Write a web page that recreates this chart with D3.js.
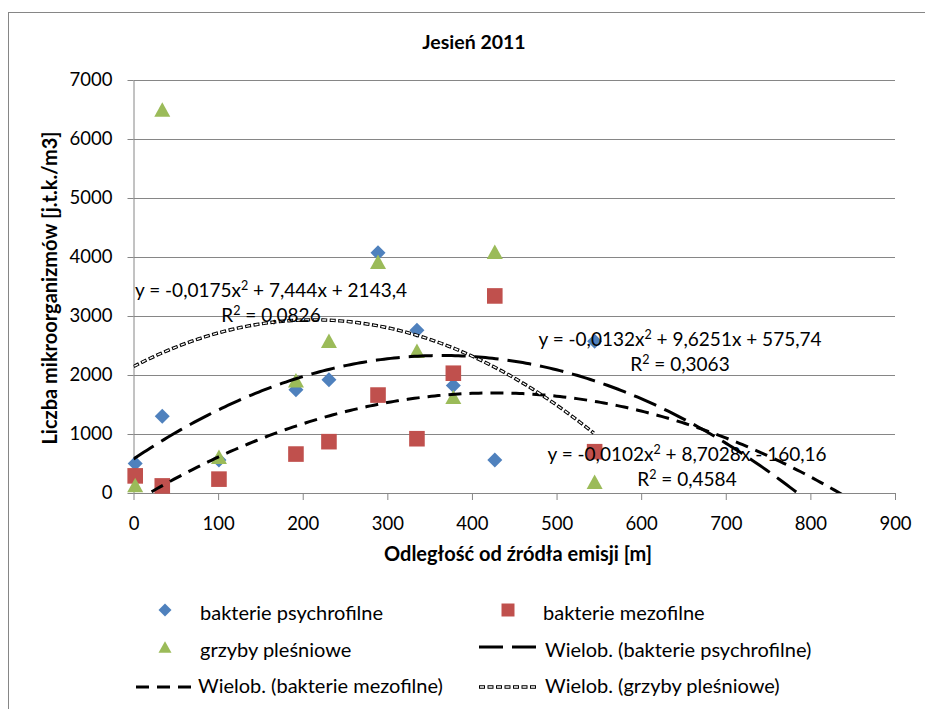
<!DOCTYPE html>
<html>
<head>
<meta charset="utf-8">
<script src="https://cdn.jsdelivr.net/npm/d3@7/dist/d3.min.js"></script>
<style>
  body { margin: 0; background: #fff; }
  text { font-family: Lato, "Open Sans", sans-serif; fill: #000; }
</style>
</head>
<body>
<div id="chart"></div>
<script>
// distances [m] and counts [j.t.k./m3]
const distances = [2, 34, 101, 192, 231, 289, 335, 378, 427, 545];
const psychro = [500, 1300, 560, 1750, 1920, 4070, 2760, 1820, 560, 2570];
const mezo = [290, 120, 235, 660, 870, 1660, 920, 2030, 3340, 700];
const grzyby = [135, 6500, 615, 1910, 2580, 3920, 2410, 1630, 4090, 190];

const xTicks = [0, 100, 200, 300, 400, 500, 600, 700, 800, 900];
const yTicks = [0, 1000, 2000, 3000, 4000, 5000, 6000, 7000];

// polynomial trendline coefficients as printed on the chart (c0, c1, c2)
const fitPsychro = [575.74, 9.6251, -0.0132];
const fitMezo = [-160.16, 8.7028, -0.0102];
const fitGrzyby = [2143.4, 7.444, -0.0175];

const seriesNames = ["bakterie psychrofilne", "bakterie mezofilne", "grzyby pleśniowe"];
const trendNames = ["Wielob. (bakterie psychrofilne)", "Wielob. (bakterie mezofilne)", "Wielob. (grzyby pleśniowe)"];
const eqPsychro = ["y = -0,0132x", " + 9,6251x + 575,74", "0,3063"];
const eqMezo = ["y = -0,0102x", " + 8,7028x - 160,16", "0,4584"];
const eqGrzyby = ["y = -0,0175x", " + 7,444x + 2143,4", "0,0826"];

const W = 925, H = 709;
const plot = { left: 133.5, right: 895, top: 80, bottom: 493 };
const grey = "#868686";
const colors = { psychro: "#4F81BD", mezo: "#C0504D", grzyby: "#9BBB59" };

const svg = d3.select("#chart").append("svg")
  .attr("width", W)
  .attr("height", H);

// chart border (right and bottom fall outside the picture)
svg.append("rect")
  .attr("x", 8.5).attr("y", 12.5)
  .attr("width", 960).attr("height", 740)
  .attr("fill", "none").attr("stroke", grey);

const x = d3.scaleLinear().domain([0, 900]).range([plot.left, plot.right]);
const y = d3.scaleLinear().domain([0, 7000]).range([plot.bottom, plot.top]);

// gridlines
svg.append("g").selectAll("line")
  .data(yTicks)
  .join("line")
  .attr("x1", plot.left).attr("x2", plot.right)
  .attr("y1", d => Math.round(y(d)) + 0.5).attr("y2", d => Math.round(y(d)) + 0.5)
  .attr("stroke", grey);

const yAxis = svg.append("g")
  .attr("transform", `translate(${plot.left},0)`)
  .call(d3.axisLeft(y).tickValues(yTicks).tickFormat(d3.format("d"))
    .tickSize(6).tickSizeOuter(0).tickPadding(15));
const xAxis = svg.append("g")
  .attr("transform", `translate(0,${plot.bottom})`)
  .call(d3.axisBottom(x).tickValues(xTicks).tickFormat(d3.format("d"))
    .tickSize(7).tickSizeOuter(0).tickPadding(17));

[yAxis, xAxis].forEach(ax => {
  ax.selectAll("path, line").attr("stroke", grey);
  ax.selectAll("text").style("font-size", "18.5px").style("font-family", "Lato, sans-serif").attr("fill", "#000");
});

// markers
const diamond = s => `M0,${-s}L${s},0L0,${s}L${-s},0Z`;
const square = s => `M${-s},${-s}H${s}V${s}H${-s}Z`;
const triangle = s => `M0,${-s * 0.9}L${s},${s * 0.9}L${-s},${s * 0.9}Z`;

function drawPoints(values, shape, size, color) {
  svg.append("g").selectAll("path")
    .data(values)
    .join("path")
    .attr("transform", (d, i) => `translate(${x(distances[i])},${y(d)})`)
    .attr("d", shape(size))
    .attr("fill", color);
}
drawPoints(psychro, diamond, 7.5, colors.psychro);
drawPoints(mezo, square, 7.8, colors.mezo);
drawPoints(grzyby, triangle, 8, colors.grzyby);

// trendlines
svg.append("clipPath").attr("id", "clip")
  .append("rect")
  .attr("x", plot.left).attr("y", plot.top)
  .attr("width", plot.right - plot.left).attr("height", plot.bottom - plot.top);

const trendArea = svg.append("g").attr("clip-path", "url(#clip)");
const poly = c => v => c[0] + c[1] * v + c[2] * v * v;
const curve = (c, from, to) => {
  const f = poly(c);
  return d3.line()(d3.range(from, to + 1, 4).map(v => [x(v), y(f(v))]));
};

trendArea.append("path")
  .attr("d", curve(fitPsychro, 0, 850))
  .attr("fill", "none").attr("stroke", "#000")
  .attr("stroke-width", 3).attr("stroke-dasharray", "24,9");
trendArea.append("path")
  .attr("d", curve(fitMezo, 0, 850))
  .attr("fill", "none").attr("stroke", "#000")
  .attr("stroke-width", 3).attr("stroke-dasharray", "13,8");

function outlinedDots(g, d) {
  g.append("path").attr("d", d)
    .attr("fill", "none").attr("stroke", "#000")
    .attr("stroke-width", 3.4).attr("stroke-dasharray", "6,2.5");
  g.append("path").attr("d", d)
    .attr("fill", "none").attr("stroke", "#fff")
    .attr("stroke-width", 1.4).attr("stroke-dasharray", "4,4.5").attr("stroke-dashoffset", -1);
}
outlinedDots(trendArea, curve(fitGrzyby, 0, 545));

// equation labels
function equation(eq, cx, base) {
  const g = svg.append("g").style("font-size", "19px");
  const t = g.append("text").attr("x", cx).attr("y", base).attr("text-anchor", "middle");
  t.append("tspan").text(eq[0]);
  t.append("tspan").attr("dy", -7).style("font-size", "12.5px").text("2");
  t.append("tspan").attr("dy", 7).text(eq[1]);
  const r = g.append("text").attr("x", cx).attr("y", base + 25).attr("text-anchor", "middle");
  r.append("tspan").text("R");
  r.append("tspan").attr("dy", -7).style("font-size", "12.5px").text("2");
  r.append("tspan").attr("dy", 7).text(" = " + eq[2]);
}
equation(eqGrzyby, 271, 297);
equation(eqPsychro, 680, 346);
equation(eqMezo, 687, 461);

// titles
svg.append("text")
  .attr("x", 474).attr("y", 49)
  .attr("text-anchor", "middle")
  .style("font-size", "19.5px").style("font-weight", "bold")
  .text("Jesień 2011");

svg.append("text")
  .attr("x", 518).attr("y", 561)
  .attr("text-anchor", "middle")
  .style("font-size", "20px").style("font-weight", "bold")
  .text("Odległość od źródła emisji [m]");

svg.append("text")
  .attr("transform", "translate(57,288) rotate(-90)")
  .attr("text-anchor", "middle")
  .style("font-size", "20px").style("font-weight", "bold")
  .text("Liczba mikroorganizmów [j.t.k./m3]");

// legend
const legend = svg.append("g").style("font-size", "20px");
const rows = [619.5, 656.5, 693];
const col1 = 165, col2 = 508;

legend.append("path").attr("transform", `translate(${col1},610)`).attr("d", diamond(6.5)).attr("fill", colors.psychro);
legend.append("text").attr("x", 200).attr("y", rows[0]).text(seriesNames[0]);
legend.append("path").attr("transform", `translate(${col2},610)`).attr("d", square(6.5)).attr("fill", colors.mezo);
legend.append("text").attr("x", 543).attr("y", rows[0]).text(seriesNames[1]);

legend.append("path").attr("transform", `translate(${col1},647)`).attr("d", triangle(6.5)).attr("fill", colors.grzyby);
legend.append("text").attr("x", 200).attr("y", rows[1]).text(seriesNames[2]);
legend.append("line").attr("x1", 479).attr("x2", 536).attr("y1", 647).attr("y2", 647)
  .attr("stroke", "#000").attr("stroke-width", 3).attr("stroke-dasharray", "24,9");
legend.append("text").attr("x", 545).attr("y", rows[1]).text(trendNames[0]);

legend.append("line").attr("x1", 136).attr("x2", 193).attr("y1", 687).attr("y2", 687)
  .attr("stroke", "#000").attr("stroke-width", 3).attr("stroke-dasharray", "13,8");
legend.append("text").attr("x", 198).attr("y", rows[2]).text(trendNames[1]);
outlinedDots(legend, "M479,687H537");
legend.append("text").attr("x", 545).attr("y", rows[2]).text(trendNames[2]);
</script>
</body>
</html>
